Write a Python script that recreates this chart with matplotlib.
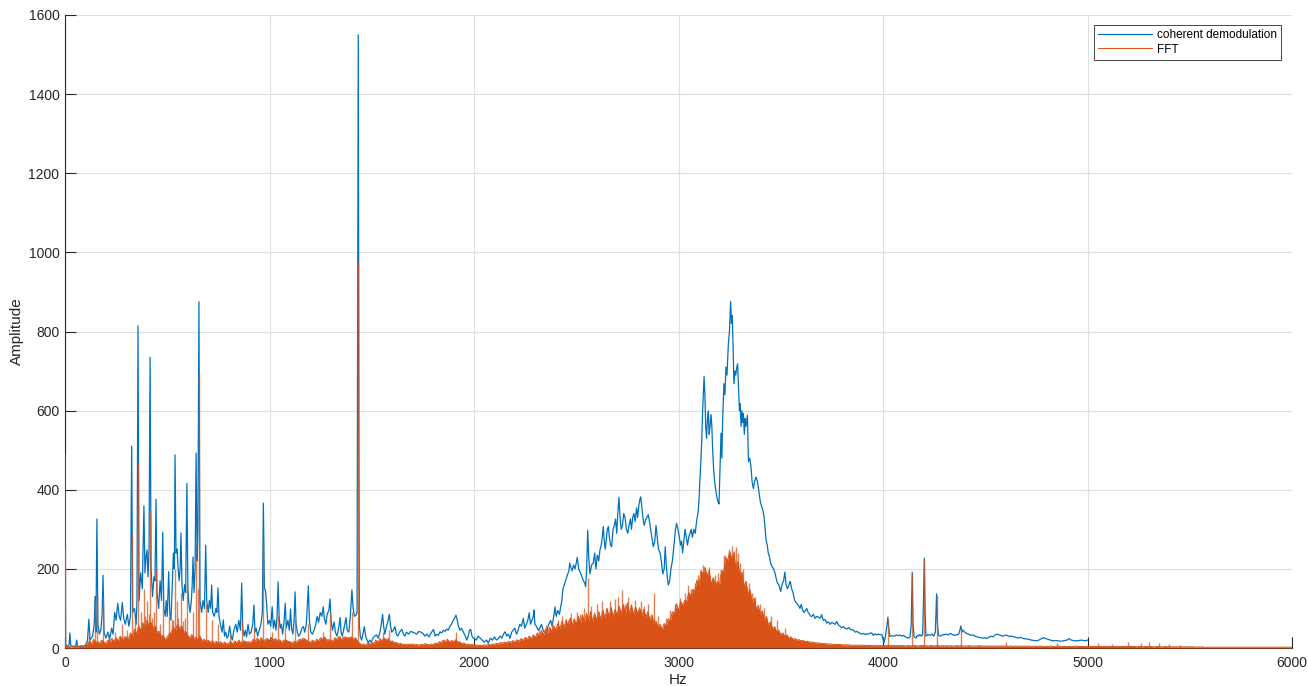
import numpy as np
import matplotlib
matplotlib.use("Agg")
import matplotlib.pyplot as plt

# ---------------------------------------------------------------------------
# Coherent demodulation spectrum: (frequency in Hz, amplitude)
# ---------------------------------------------------------------------------
DEMOD_POINTS = [
    (0, 488), (3, 10), (10, 4), (20, 8), (24, 38), (28, 6), (40, 4), (52, 5), (57, 20), (62, 4),
    (80, 4), (100, 6), (110, 20), (117, 73), (122, 20), (135, 30), (143, 60), (147, 130), (151, 40),
    (156, 326), (161, 60), (168, 35), (175, 45), (181, 80), (186, 184), (191, 40), (200, 25), (210, 40),
    (218, 20), (228, 50), (235, 35), (243, 90), (250, 70), (258, 113), (265, 80), (272, 70), (280, 115),
    (287, 75), (295, 60), (305, 85), (312, 55), (320, 80), (326, 510), (331, 90), (340, 100), (348, 60),
    (352, 120), (357, 814), (362, 120), (370, 190), (378, 150), (386, 359), (391, 190), (396, 230),
    (401, 248), (406, 180), (411, 250), (416, 735), (421, 200), (428, 130), (435, 180), (440, 170),
    (445, 376), (450, 140), (458, 100), (465, 170), (472, 120), (478, 293), (483, 100), (490, 80),
    (495, 120), (500, 80), (507, 193), (512, 90), (518, 70), (524, 150), (530, 240), (535, 200),
    (538, 488), (543, 240), (548, 250), (552, 210), (558, 170), (563, 200), (567, 291), (572, 160),
    (578, 120), (585, 160), (590, 140), (596, 416), (601, 150), (606, 110), (612, 90), (618, 120),
    (622, 160), (626, 230), (631, 140), (636, 200), (641, 493), (646, 220), (650, 300), (655, 875),
    (660, 120), (668, 90), (675, 120), (682, 100), (688, 260), (693, 120), (700, 90), (706, 120),
    (712, 100), (717, 159), (722, 90), (730, 80), (738, 100), (743, 90), (748, 152), (753, 80),
    (760, 60), (768, 40), (774, 71), (780, 30), (786, 40), (792, 25), (798, 30), (805, 55), (812, 30),
    (818, 20), (826, 45), (835, 60), (842, 40), (850, 70), (858, 45), (864, 164), (869, 50), (876, 30),
    (882, 45), (888, 28), (895, 60), (902, 35), (910, 40), (918, 60), (924, 109), (929, 40), (935, 50),
    (942, 30), (950, 45), (958, 60), (965, 90), (970, 366), (975, 150), (980, 147), (986, 110),
    (992, 60), (1000, 70), (1006, 55), (1013, 104), (1019, 50), (1025, 70), (1032, 45), (1037, 80),
    (1042, 167), (1047, 80), (1052, 50), (1058, 60), (1064, 35), (1070, 60), (1077, 113), (1082, 50),
    (1090, 70), (1097, 45), (1103, 98), (1108, 50), (1114, 35), (1120, 70), (1125, 142), (1130, 60),
    (1136, 40), (1142, 30), (1150, 35), (1158, 50), (1166, 54), (1172, 40), (1180, 60), (1186, 120),
    (1190, 157), (1195, 70), (1202, 40), (1210, 35), (1218, 45), (1226, 60), (1233, 80), (1240, 65),
    (1248, 90), (1256, 80), (1263, 104), (1268, 75), (1275, 60), (1282, 85), (1290, 95), (1296, 124),
    (1301, 70), (1308, 45), (1316, 66), (1322, 40), (1330, 30), (1338, 50), (1345, 77), (1350, 40),
    (1356, 30), (1362, 45), (1368, 60), (1374, 77), (1380, 45), (1388, 40), (1395, 80), (1403, 147),
    (1409, 100), (1415, 80), (1423, 83), (1428, 90), (1434, 1550), (1439, 60), (1444, 30), (1450, 20),
    (1457, 35), (1464, 54), (1470, 30), (1477, 20), (1483, 13), (1490, 20), (1498, 15), (1506, 25),
    (1514, 30), (1524, 33), (1532, 25), (1540, 40), (1547, 60), (1553, 85), (1558, 55), (1564, 35),
    (1570, 50), (1578, 65), (1586, 85), (1592, 55), (1598, 40), (1606, 45), (1614, 54), (1620, 35),
    (1628, 30), (1636, 40), (1647, 47), (1655, 35), (1662, 30), (1670, 40), (1680, 35), (1690, 42),
    (1700, 40), (1710, 38), (1720, 35), (1730, 42), (1740, 40), (1750, 37), (1760, 30), (1770, 35),
    (1780, 28), (1790, 38), (1802, 47), (1810, 30), (1818, 35), (1826, 32), (1834, 41), (1842, 38),
    (1850, 45), (1858, 42), (1866, 48), (1874, 45), (1882, 55), (1890, 60), (1898, 70), (1905, 75),
    (1912, 83), (1918, 70), (1924, 55), (1931, 45), (1938, 50), (1944, 45), (1950, 38), (1958, 30),
    (1964, 20), (1972, 30), (1978, 45), (1984, 47), (1990, 30), (1996, 25), (2003, 24), (2012, 20),
    (2020, 30), (2030, 25), (2040, 20), (2050, 15), (2062, 20), (2070, 12), (2080, 25), (2090, 20),
    (2100, 28), (2110, 20), (2119, 24), (2128, 30), (2136, 25), (2144, 35), (2152, 41), (2160, 30),
    (2168, 35), (2176, 24), (2184, 40), (2192, 45), (2200, 50), (2208, 35), (2216, 45), (2224, 60),
    (2232, 55), (2241, 75), (2248, 50), (2256, 60), (2263, 70), (2270, 89), (2276, 60), (2283, 70),
    (2290, 80), (2293, 96), (2298, 60), (2305, 55), (2314, 45), (2322, 50), (2330, 60), (2338, 45),
    (2345, 40), (2355, 37), (2362, 55), (2370, 65), (2375, 70), (2382, 55), (2390, 80), (2396, 104),
    (2402, 80), (2410, 95), (2418, 85), (2424, 105), (2429, 117), (2435, 150), (2442, 160), (2450, 174),
    (2457, 185), (2464, 195), (2468, 215), (2473, 205), (2480, 195), (2487, 210), (2494, 200),
    (2500, 215), (2505, 229), (2512, 200), (2520, 190), (2528, 180), (2535, 170), (2541, 165),
    (2546, 155), (2551, 200), (2556, 298), (2561, 230), (2567, 187), (2575, 210), (2583, 214),
    (2590, 240), (2596, 200), (2603, 235), (2610, 220), (2616, 248), (2622, 260), (2627, 280),
    (2632, 307), (2637, 270), (2642, 250), (2648, 280), (2652, 300), (2657, 307), (2662, 280),
    (2668, 260), (2673, 256), (2680, 300), (2686, 310), (2692, 326), (2698, 290), (2703, 340),
    (2709, 381), (2714, 330), (2720, 300), (2726, 310), (2732, 340), (2739, 329), (2745, 300),
    (2752, 290), (2758, 310), (2765, 326), (2770, 300), (2776, 330), (2782, 340), (2788, 320),
    (2795, 354), (2800, 330), (2806, 360), (2811, 375), (2815, 382), (2820, 360), (2826, 330),
    (2832, 310), (2840, 325), (2846, 330), (2852, 337), (2858, 320), (2864, 300), (2870, 280),
    (2877, 256), (2884, 270), (2890, 310), (2896, 280), (2902, 250), (2910, 240), (2916, 220),
    (2923, 187), (2930, 200), (2935, 256), (2940, 210), (2945, 180), (2950, 159), (2957, 170),
    (2963, 200), (2970, 220), (2978, 260), (2985, 300), (2991, 315), (2997, 300), (3004, 280),
    (3010, 260), (3015, 270), (3020, 240), (3026, 270), (3032, 300), (3038, 280), (3044, 260),
    (3050, 280), (3056, 290), (3062, 300), (3068, 280), (3075, 300), (3082, 290), (3089, 323),
    (3095, 340), (3100, 370), (3105, 430), (3110, 480), (3113, 517), (3118, 600), (3122, 650),
    (3125, 686), (3129, 640), (3133, 560), (3137, 530), (3142, 580), (3146, 599), (3150, 540),
    (3154, 560), (3159, 590), (3163, 560), (3167, 500), (3172, 450), (3177, 420), (3182, 399),
    (3188, 380), (3193, 370), (3198, 364), (3203, 450), (3208, 543), (3212, 480), (3216, 580),
    (3222, 668), (3227, 640), (3232, 710), (3237, 690), (3244, 770), (3249, 800), (3255, 876),
    (3259, 820), (3263, 840), (3267, 760), (3271, 668), (3276, 700), (3280, 690), (3285, 710),
    (3289, 718), (3294, 650), (3298, 600), (3301, 618), (3306, 560), (3310, 600), (3314, 570),
    (3317, 593), (3322, 540), (3326, 580), (3330, 560), (3337, 588), (3342, 471), (3348, 480),
    (3354, 460), (3360, 420), (3366, 403), (3372, 420), (3379, 432), (3386, 420), (3392, 400),
    (3400, 370), (3407, 357), (3412, 350), (3418, 332), (3424, 300), (3428, 273), (3434, 260),
    (3439, 240), (3445, 230), (3450, 215), (3458, 205), (3465, 200), (3472, 189), (3478, 175),
    (3484, 164), (3490, 160), (3496, 150), (3500, 143), (3506, 160), (3514, 170), (3520, 192),
    (3526, 160), (3532, 150), (3538, 155), (3543, 165), (3547, 168), (3553, 150), (3560, 140),
    (3568, 120), (3575, 115), (3583, 110), (3590, 105), (3594, 100), (3600, 110), (3608, 95),
    (3615, 90), (3621, 95), (3627, 100), (3634, 90), (3641, 85), (3647, 80), (3652, 80), (3660, 85),
    (3668, 75), (3676, 80), (3684, 78), (3692, 75), (3700, 84), (3708, 70), (3716, 72), (3725, 63),
    (3733, 66), (3741, 60), (3750, 65), (3758, 62), (3766, 60), (3774, 67), (3782, 58), (3790, 55),
    (3798, 51), (3806, 54), (3815, 50), (3824, 48), (3832, 52), (3840, 47), (3847, 46), (3856, 45),
    (3865, 40), (3874, 42), (3882, 38), (3890, 37), (3896, 35), (3905, 37), (3914, 34), (3922, 36),
    (3930, 35), (3938, 38), (3945, 38), (3952, 32), (3960, 36), (3968, 33), (3976, 35), (3985, 34),
    (3994, 34), (4000, 22), (4005, 13), (4012, 30), (4020, 60), (4024, 78), (4028, 50), (4034, 29),
    (4045, 31), (4055, 30), (4065, 33), (4075, 31), (4083, 33), (4092, 30), (4100, 32), (4110, 28),
    (4118, 26), (4124, 25), (4132, 28), (4138, 60), (4143, 191), (4147, 60), (4152, 28), (4160, 25),
    (4168, 32), (4175, 30), (4180, 34), (4188, 30), (4194, 35), (4198, 120), (4202, 227), (4206, 90),
    (4210, 30), (4220, 34), (4230, 32), (4240, 35), (4248, 30), (4256, 40), (4262, 137), (4266, 60),
    (4272, 32), (4280, 30), (4290, 33), (4300, 34), (4311, 35), (4320, 33), (4330, 37), (4340, 34),
    (4350, 32), (4360, 33), (4370, 35), (4376, 45), (4381, 56), (4386, 40), (4392, 45), (4400, 40),
    (4410, 36), (4420, 35), (4430, 32), (4440, 33), (4450, 30), (4460, 28), (4470, 27), (4475, 26),
    (4485, 25), (4495, 26), (4507, 24), (4518, 27), (4528, 30), (4538, 28), (4548, 33), (4558, 35),
    (4568, 33), (4578, 31), (4589, 30), (4600, 33), (4610, 31), (4620, 29), (4630, 30), (4640, 28),
    (4650, 27), (4660, 25), (4672, 27), (4686, 24), (4700, 23), (4712, 22), (4725, 20), (4738, 19),
    (4751, 18), (4762, 20), (4772, 23), (4784, 26), (4795, 24), (4805, 22), (4818, 20), (4833, 18),
    (4845, 19), (4858, 18), (4870, 17), (4880, 18), (4890, 19), (4900, 20), (4911, 24), (4920, 20),
    (4930, 19), (4940, 18), (4947, 18), (4960, 19), (4970, 20), (4980, 19), (4990, 18), (5000, 20),
]
demod_hz = np.array([p[0] for p in DEMOD_POINTS], dtype=float)
demod_amp = np.array([p[1] for p in DEMOD_POINTS], dtype=float)

# ---------------------------------------------------------------------------
# FFT spectrum: dense noise floor sampled every 10 Hz from 0 to 6000 Hz
# ---------------------------------------------------------------------------
FFT_STEP_HZ = 10
FFT_FLOOR = [
    9, 3, 4, 2, 3, 5, 3, 4, 6, 4,            # 0
    8, 12, 18, 10, 22, 14, 16, 12, 20, 14,   # 100
    12, 20, 14, 24, 16, 26, 18, 30, 20, 28,  # 200
    28, 22, 38, 30, 48, 36, 56, 44, 64, 52,  # 300
    70, 58, 66, 50, 56, 40, 42, 30, 32, 22,  # 400
    28, 36, 40, 52, 44, 60, 50, 56, 40, 42,  # 500
    32, 26, 34, 22, 28, 20, 30, 18, 22, 16,  # 600
    20, 14, 18, 12, 17, 11, 16, 10, 15, 10,  # 700
    12, 16, 11, 18, 13, 20, 12, 18, 17, 15,  # 800
    16, 14, 22, 17, 25, 18, 26, 16, 22, 24,  # 900
    18, 26, 20, 24, 17, 21, 14, 20, 20, 17,  # 1000
    16, 12, 17, 13, 20, 22, 23, 24, 20, 17,  # 1100
    14, 20, 15, 22, 18, 26, 22, 28, 20, 21,  # 1200
    20, 17, 26, 22, 29, 20, 27, 28, 26, 26,  # 1300
    28, 22, 26, 18, 12, 8, 10, 7, 12, 10,    # 1400
    14, 12, 20, 15, 24, 18, 26, 20, 24, 16,  # 1500
    18, 13, 14, 10, 12, 9, 10, 8, 10, 9,     # 1600
    10, 8, 9, 7, 9, 8, 11, 9, 8, 10,         # 1700
    9, 12, 11, 16, 14, 20, 16, 22, 15, 19,   # 1800
    16, 21, 15, 16, 11, 13, 9, 10, 8, 9,     # 1900
    7, 8, 6, 7, 6, 8, 7, 9, 8, 10,           # 2000
    9, 12, 10, 14, 12, 15, 13, 17, 14, 19,   # 2100
    15, 21, 17, 24, 19, 27, 22, 30, 24, 33,  # 2200
    27, 38, 30, 44, 34, 48, 38, 52, 42, 56,  # 2300
    46, 62, 49, 68, 52, 72, 55, 76, 58, 74,  # 2400
    60, 80, 62, 84, 65, 88, 68, 92, 66, 86,  # 2500
    70, 92, 72, 96, 75, 100, 78, 104, 80, 98,         # 2600
    82, 106, 84, 110, 86, 114, 88, 108, 85, 104,      # 2700
    86, 102, 82, 98, 78, 92, 70, 84, 62, 68,          # 2800
    52, 60, 46, 62, 55, 74, 68, 92, 86, 112,          # 2900
    94, 118, 108, 120, 118, 140, 132, 148, 146, 172,  # 3000
    160, 196, 186, 204, 180, 196, 160, 178, 160, 168, # 3100
    158, 196, 190, 230, 220, 244, 226, 240, 204, 218, # 3200
    184, 192, 156, 168, 136, 148, 114, 126, 98, 108,  # 3300
    84, 94, 70, 80, 58, 66, 48, 54, 40, 45,  # 3400
    34, 38, 29, 33, 25, 28, 22, 24, 20, 21,  # 3500
    18, 19, 16, 17, 15, 15, 14, 13, 13, 12,  # 3600
    12, 11, 11, 10, 10, 10, 9, 9, 9, 9,      # 3700
    8, 8, 8, 8, 7, 7, 7, 7, 7, 7,            # 3800
    7, 7, 6, 7, 6, 6, 6, 6, 6, 6,            # 3900
    6, 6, 6, 6, 6, 6, 6, 6, 6, 6,            # 4000
    6, 5, 6, 6, 5, 6, 6, 5, 6, 6,            # 4100
    6, 6, 5, 6, 6, 5, 6, 6, 5, 6,            # 4200
    5, 6, 5, 6, 5, 5, 6, 5, 6, 5,            # 4300
    5, 5, 6, 5, 5, 5, 5, 6, 5, 5,            # 4400
    5, 5, 5, 5, 5, 5, 5, 5, 5, 5,            # 4500
    5, 4, 5, 5, 4, 5, 4, 5, 4, 5,            # 4600
    4, 5, 4, 4, 5, 4, 4, 5, 4, 4,            # 4700
    4, 4, 5, 4, 4, 4, 5, 4, 4, 4,            # 4800
    4, 4, 4, 4, 5, 4, 4, 4, 4, 4,            # 4900
    4, 4, 4, 4, 4, 4, 4, 4, 4, 4,            # 5000
    4, 4, 4, 4, 4, 4, 4, 4, 4, 4,            # 5100
    4, 4, 4, 4, 3, 4, 4, 3, 4, 4,            # 5200
    3, 4, 3, 3, 4, 3, 3, 3, 4, 3,            # 5300
    3, 3, 3, 3, 3, 3, 3, 3, 3, 3,            # 5400
    3, 3, 3, 2, 3, 2, 3, 2, 2, 2,            # 5500
    2, 2, 2, 2, 2, 2, 2, 2, 2, 2,            # 5600
    2, 2, 2, 2, 2, 2, 2, 2, 2, 2,            # 5700
    2, 2, 2, 2, 2, 2, 2, 2, 2, 2,            # 5800
    2, 2, 2, 2, 2, 2, 2, 2, 2, 2,            # 5900
    2,                                       # 6000
]
fft_hz = np.arange(len(FFT_FLOOR)) * FFT_STEP_HZ
fft_floor = np.array(FFT_FLOOR, dtype=float)

# Narrow FFT lines standing above the floor: (frequency in Hz, amplitude)
FFT_LINES = [
    (0, 256), (117, 40), (147, 120), (156, 130), (186, 130), (215, 35), (243, 40), (280, 60),
    (305, 45), (326, 290), (340, 70), (357, 470), (370, 90), (386, 150), (390, 80), (401, 120),
    (410, 85), (416, 345), (425, 75), (435, 90), (445, 200), (465, 60), (478, 110), (507, 80),
    (524, 70), (530, 70), (538, 200), (548, 120), (555, 75), (567, 140), (575, 68), (585, 75),
    (596, 160), (626, 90), (641, 230), (650, 150), (655, 695), (688, 110), (717, 70), (748, 60),
    (805, 35), (864, 70), (924, 50), (970, 270), (1013, 40), (1042, 80), (1077, 50), (1125, 70),
    (1190, 60), (1263, 40), (1296, 90), (1345, 30), (1403, 90), (1434, 975), (1553, 40),
    (1586, 45), (1912, 40), (2320, 50), (2350, 58), (2380, 62), (2410, 72), (2430, 80),
    (2442, 45), (2460, 70), (2475, 88), (2490, 50), (2505, 92), (2520, 85), (2540, 100),
    (2556, 177), (2570, 105), (2585, 90), (2600, 110), (2610, 80), (2625, 118), (2650, 100),
    (2665, 120), (2689, 125), (2705, 130), (2722, 146), (2740, 110), (2755, 128), (2770, 110),
    (2785, 122), (2800, 95), (2815, 118), (2830, 105), (2850, 112), (2882, 140), (2900, 80),
    (2940, 75), (2960, 95), (2985, 110), (3009, 126), (3030, 140), (3045, 160), (3060, 150),
    (3080, 165), (3095, 185), (3110, 195), (3121, 210), (3140, 190), (3150, 205), (3165, 175),
    (3180, 185), (3195, 190), (3210, 200), (3222, 235), (3235, 225), (3248, 250), (3260, 258),
    (3270, 245), (3281, 256), (3290, 240), (3300, 215), (3315, 200), (3330, 170), (3345, 165),
    (3360, 140), (3375, 130), (3400, 110), (3420, 100), (3450, 80), (3480, 70), (3520, 50),
    (4024, 70), (4143, 190), (4202, 225), (4262, 135), (4381, 50), (4600, 15), (4850, 12),
    (5050, 12), (5120, 10), (5200, 14), (5260, 12), (5300, 15), (5350, 12), (5400, 10), (5450, 8),
]
line_hz = np.array([p[0] for p in FFT_LINES], dtype=float)
line_amp = np.array([p[1] for p in FFT_LINES], dtype=float)

X_TICKS = [0, 1000, 2000, 3000, 4000, 5000, 6000]
Y_TICKS = [0, 200, 400, 600, 800, 1000, 1200, 1400, 1600]
SERIES_LABELS = ["coherent demodulation", "FFT"]

BLUE = "#0072BD"
ORANGE = "#D95319"
AXIS_COLOR = "#262626"

plt.rcParams["font.family"] = ["Liberation Sans", "DejaVu Sans"]

fig = plt.figure(figsize=(13.08, 6.86), dpi=100)
ax = fig.add_axes([65 / 1308, 1 - 648 / 686, (1292 - 65) / 1308, (648 - 15) / 686])

ax.plot(demod_hz, demod_amp, color=BLUE, lw=0.9, label=SERIES_LABELS[0], zorder=3)

ax.fill_between(fft_hz, 0, fft_floor, color=ORANGE, lw=0, zorder=4)
fft_line, = ax.plot(fft_hz, fft_floor, color=ORANGE, lw=0.7, label=SERIES_LABELS[1], zorder=4)
ax.vlines(line_hz, 0, line_amp, color=ORANGE, lw=1.0, alpha=0.75, zorder=4)

ax.set_xlim(0, 6000)
ax.set_ylim(0, 1600)
ax.set_xticks(X_TICKS)
ax.set_yticks(Y_TICKS)

ax.grid(True, color="#dedede", lw=0.8)
ax.set_axisbelow(True)

for side in ("top", "right"):
    ax.spines[side].set_visible(False)
for side in ("left", "bottom"):
    ax.spines[side].set_color(AXIS_COLOR)
    ax.spines[side].set_linewidth(0.8)
    ax.spines[side].set_zorder(2.5)

ax.tick_params(axis="both", direction="in", length=8, width=0.8, color=AXIS_COLOR,
               labelcolor=AXIS_COLOR, labelsize=10)
ax.tick_params(axis="x", pad=6)
ax.tick_params(axis="y", pad=4)

ax.set_xlabel("Hz", fontsize=11, color=AXIS_COLOR, labelpad=2)
ax.set_ylabel("Amplitude", fontsize=11, color=AXIS_COLOR, labelpad=3)

leg = ax.legend(loc="upper right", bbox_to_anchor=(0.991, 0.984), borderaxespad=0,
                fontsize=8.5, handlelength=4.6, handletextpad=0.4, labelspacing=0.2,
                borderpad=0.35, fancybox=False, framealpha=1, edgecolor=AXIS_COLOR)
leg.get_frame().set_linewidth(0.6)
leg.set_zorder(10)

fig.savefig("out.png", dpi=100, facecolor="white")
